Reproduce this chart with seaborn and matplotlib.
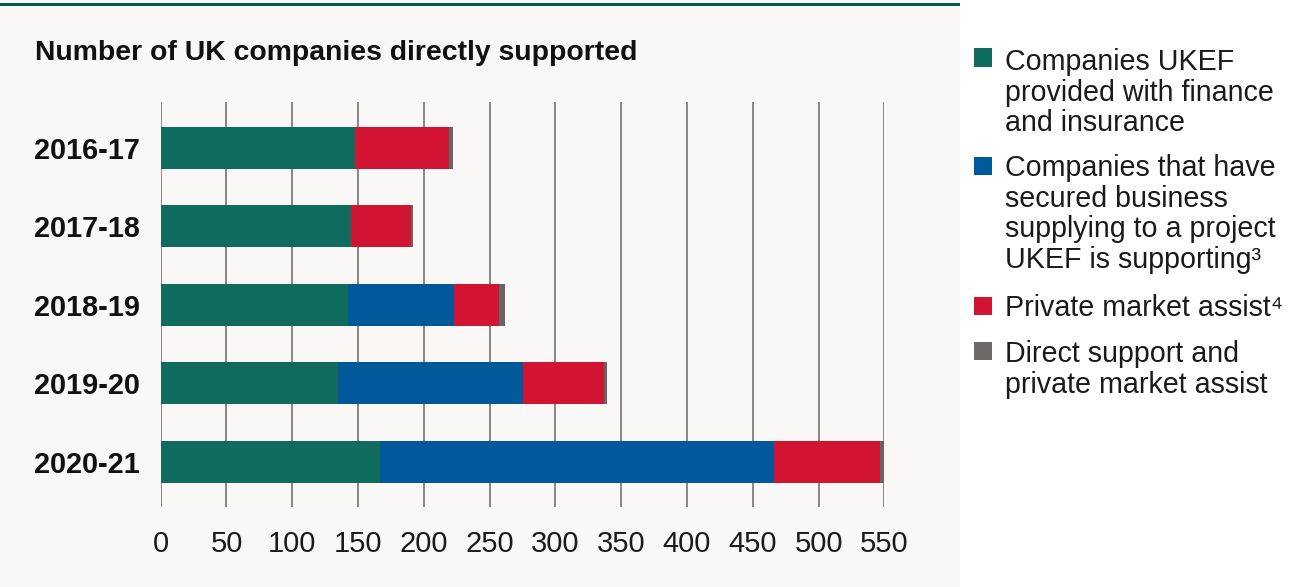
import matplotlib
matplotlib.use("Agg")
import matplotlib.pyplot as plt
import matplotlib.patches as mpatches
import numpy as np
import pandas as pd
import seaborn as sns

years = ["2016-17", "2017-18", "2018-19", "2019-20", "2020-21"]
finance_insurance = [148, 145, 142, 135, 167]
supply_chain = [0, 0, 81, 140, 299]
private_market = [71, 45, 34, 62, 81]
direct_and_private = [3, 2, 5, 2, 3]

series_names = [
    "Companies UKEF\nprovided with finance\nand insurance",
    "Companies that have\nsecured business\nsupplying to a project\nUKEF is supporting\u00b3",
    "Private market assist\u2074",
    "Direct support and\nprivate market assist",
]
bar_colors = ["#0e6b5e", "#02599a", "#d11431", "#666464"]
legend_colors = ["#0e6b5e", "#02599a", "#d11431", "#6e6a6a"]
xticks = [0, 50, 100, 150, 200, 250, 300, 350, 400, 450, 500, 550]

sns.set_theme(style="white")
plt.rcParams["font.family"] = ["Liberation Sans", "DejaVu Sans"]

W, H = 1291, 587
fig = plt.figure(figsize=(W / 100, H / 100), dpi=100, facecolor="white")

# panel background and top rule
fig.patches.append(mpatches.Rectangle((0, 0), 960 / W, 1, transform=fig.transFigure,
                                      facecolor="#f9f8f6", edgecolor="none", zorder=-10))
fig.patches.append(mpatches.Rectangle((0, 1 - 6 / H), 960 / W, 3 / H, transform=fig.transFigure,
                                      facecolor="#0b5a48", edgecolor="none", zorder=-5))

left, right = 160.7 / W, 884.4 / W
top, bottom = 1 - 102.3 / H, 1 - 507.3 / H
ax = fig.add_axes([left, bottom, right - left, top - bottom])
ax.set_facecolor("none")

segs = [finance_insurance, supply_chain, private_market, direct_and_private]
cum = np.cumsum(np.array(segs, dtype=float), axis=0)

for i in range(3, -1, -1):
    df = pd.DataFrame({"year": years, "value": cum[i]})
    sns.barplot(data=df, x="value", y="year", orient="y", color=bar_colors[i],
                saturation=1, width=0.535, ax=ax, edgecolor="none", linewidth=0, zorder=2)

ax.set_xlim(0, 550)
ax.set_ylim(4.58, -0.58)
ax.set_xticks(xticks)
ax.set_xticklabels([str(t) for t in xticks], fontsize=21, color="#1a1a1a")
ax.tick_params(axis="x", length=0, pad=16)
ax.tick_params(axis="y", length=0, pad=15)
for lab in ax.get_yticklabels():
    lab.set_fontsize(20.8)
    lab.set_fontweight("bold")
    lab.set_color("#111111")
ax.set_xlabel("")
ax.set_ylabel("")
for s in ax.spines.values():
    s.set_visible(False)
ax.grid(axis="x", color="#737373", linewidth=1.2)
ax.grid(axis="y", visible=False)
ax.set_axisbelow(True)

fig.text(35 / W, 1 - 53 / H, "Number of UK companies directly supported",
         fontsize=20.4, fontweight="bold", color="#111111", va="center", ha="left")

# legend
marker_centers = [57.5, 166, 306, 351]
text_tops = [48, 154, 294, 340]
for name, col, yc, yt in zip(series_names, legend_colors, marker_centers, text_tops):
    fig.patches.append(mpatches.Rectangle((974 / W, 1 - (yc + 9) / H), 18 / W, 18 / H,
                                          transform=fig.transFigure, facecolor=col,
                                          edgecolor="none"))
    fig.text(1005 / W, 1 - yt / H, name, fontsize=20.6, color="#1a1a1a",
             va="top", ha="left", linespacing=1.12)

fig.savefig("out.png", dpi=100, facecolor="white")
